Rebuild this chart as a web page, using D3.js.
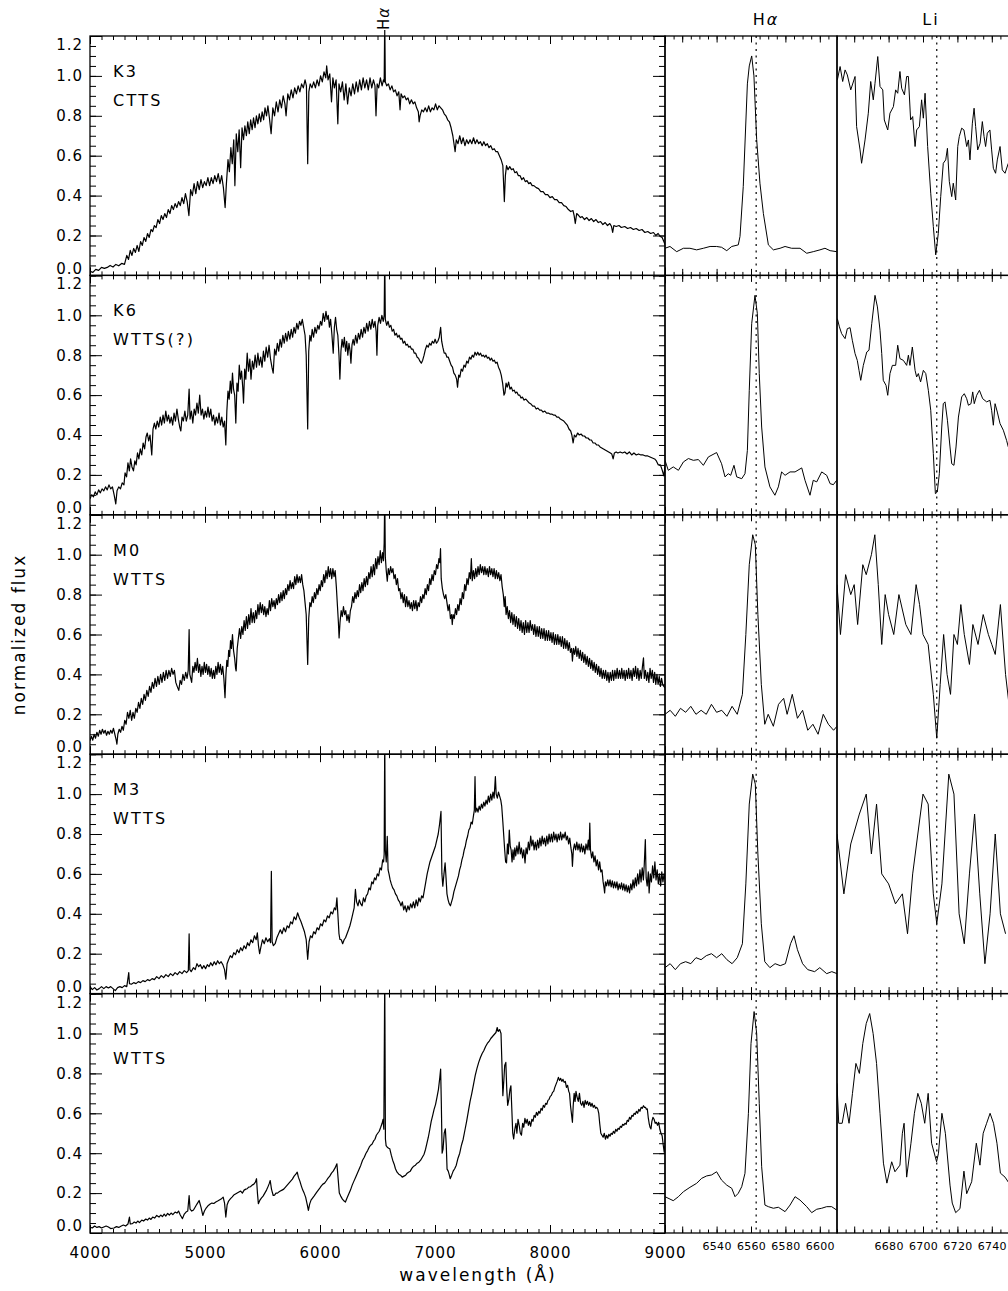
<!DOCTYPE html>
<html>
<head>
<meta charset="utf-8">
<script src="https://cdn.jsdelivr.net/npm/d3@7"></script>
<style>
  body { margin: 0; background: #fff; }
  svg text { font-family: "DejaVu Sans", sans-serif; fill: #000; }
</style>
</head>
<body>
<script>
// Star labels
var spectralTypes = ["K3", "K6", "M0", "M3", "M5"];
var starClasses = ["CTTS", "WTTS(?)", "WTTS", "WTTS", "WTTS"];

// Tick values
var yTickValues = [0, 0.2, 0.4, 0.6, 0.8, 1.0, 1.2];
var fullTickLabels = [4000, 5000, 6000, 7000, 8000, 9000];
var haTickLabels = [6540, 6560, 6580, 6600];
var liTickLabels = [6680, 6700, 6720, 6740];
var haLine = 6563;
var liLine = 6708;

// Full spectra [wavelength, normalized flux]
var k3Full = [[4000,.02],[4025,.015],[4050,.03],[4075,.025],[4100,.04],[4125,.035],[4150,.04],[4175,.05],[4200,.042],[4225,.055],[4250,.048],[4275,.06],[4300,.055],[4320,.10],[4335,.08],[4350,.125],[4365,.10],[4380,.135],[4395,.115],[4410,.15],[4425,.12],[4440,.17],[4455,.15],[4470,.19],[4485,.17],[4500,.21],[4515,.19],[4530,.23],[4545,.22],[4560,.25],[4575,.24],[4590,.28],[4605,.26],[4620,.30],[4635,.28],[4650,.31],[4665,.29],[4680,.33],[4695,.31],[4710,.35],[4725,.33],[4740,.36],[4755,.34],[4770,.37],[4785,.35],[4800,.39],[4815,.36],[4830,.41],[4845,.37],[4860,.30],[4875,.43],[4890,.40],[4905,.46],[4920,.41],[4935,.47],[4950,.43],[4965,.48],[4980,.44],[4995,.47],[5010,.45],[5025,.49],[5040,.45],[5055,.49],[5070,.46],[5085,.50],[5100,.47],[5115,.51],[5130,.46],[5145,.50],[5160,.44],[5175,.34],[5185,.45],[5200,.58],[5212,.52],[5225,.64],[5237,.56],[5250,.68],[5260,.45],[5272,.71],[5285,.62],[5297,.73],[5310,.54],[5322,.74],[5335,.68],[5347,.75],[5360,.70],[5372,.77],[5385,.71],[5397,.78],[5410,.73],[5422,.79],[5435,.74],[5447,.80],[5460,.76],[5472,.81],[5485,.77],[5497,.82],[5510,.78],[5522,.84],[5535,.80],[5547,.85],[5560,.79],[5575,.71],[5590,.84],[5605,.80],[5620,.87],[5635,.82],[5650,.88],[5665,.84],[5680,.90],[5695,.86],[5705,.80],[5720,.91],[5735,.88],[5750,.93],[5765,.89],[5780,.94],[5795,.91],[5810,.95],[5825,.92],[5840,.96],[5855,.94],[5870,.98],[5882,.95],[5893,.56],[5903,.92],[5915,.96],[5930,.94],[5945,.97],[5960,.94],[5975,.98],[5990,.95],[6005,1.0],[6020,.97],[6035,1.02],[6050,.99],[6058,1.05],[6070,.98],[6085,1.01],[6100,.87],[6112,.99],[6125,.94],[6140,.98],[6155,.76],[6165,.96],[6180,.92],[6195,.97],[6210,.88],[6225,.96],[6240,.86],[6255,.94],[6270,.90],[6285,.96],[6300,.91],[6315,.97],[6330,.92],[6345,.98],[6360,.93],[6375,.99],[6390,.94],[6405,.98],[6420,.93],[6435,.99],[6450,.94],[6465,.98],[6478,.95],[6487,.80],[6497,.96],[6510,.94],[6525,.99],[6540,.95],[6552,.98],[6558,.97],[6563,1.3],[6568,.97],[6580,.95],[6595,.96],[6610,.93],[6625,.95],[6640,.92],[6655,.93],[6670,.90],[6685,.92],[6696,.83],[6705,.91],[6720,.89],[6735,.90],[6750,.88],[6765,.89],[6780,.86],[6795,.88],[6810,.86],[6825,.87],[6840,.84],[6855,.82],[6862,.77],[6870,.80],[6885,.83],[6900,.82],[6915,.84],[6930,.82],[6945,.85],[6960,.82],[6975,.84],[6990,.83],[7005,.86],[7020,.83],[7035,.85],[7050,.84],[7065,.83],[7080,.81],[7095,.80],[7110,.78],[7125,.77],[7140,.74],[7155,.70],[7165,.66],[7175,.62],[7185,.68],[7200,.66],[7215,.70],[7230,.66],[7245,.69],[7260,.65],[7275,.68],[7290,.66],[7305,.68],[7320,.66],[7335,.69],[7350,.66],[7365,.68],[7380,.66],[7395,.67],[7410,.65],[7425,.67],[7440,.65],[7455,.66],[7470,.64],[7485,.65],[7500,.63],[7515,.635],[7530,.62],[7545,.62],[7560,.60],[7575,.58],[7590,.55],[7603,.37],[7612,.50],[7622,.55],[7635,.53],[7650,.545],[7665,.53],[7680,.535],[7695,.515],[7710,.52],[7725,.50],[7740,.50],[7755,.48],[7770,.49],[7785,.47],[7800,.475],[7815,.46],[7830,.465],[7845,.45],[7860,.45],[7880,.44],[7900,.435],[7920,.42],[7940,.42],[7960,.405],[7980,.405],[8000,.39],[8020,.395],[8040,.38],[8060,.38],[8080,.365],[8100,.365],[8120,.35],[8140,.345],[8160,.33],[8180,.32],[8200,.325],[8210,.30],[8220,.26],[8232,.31],[8250,.30],[8265,.29],[8280,.295],[8300,.28],[8320,.29],[8340,.275],[8360,.285],[8380,.27],[8400,.28],[8420,.265],[8440,.27],[8460,.255],[8480,.265],[8500,.25],[8520,.26],[8535,.245],[8545,.215],[8555,.25],[8575,.245],[8600,.25],[8620,.24],[8650,.245],[8675,.235],[8700,.24],[8725,.23],[8750,.235],[8775,.225],[8800,.23],[8825,.215],[8850,.22],[8875,.21],[8900,.215],[8920,.20],[8940,.21],[8960,.195],[8975,.19],[8990,.17],[9000,.155]];

var k6Full = [[4000,.08],[4015,.10],[4030,.09],[4045,.115],[4060,.10],[4075,.125],[4090,.11],[4105,.13],[4120,.12],[4135,.14],[4150,.125],[4165,.15],[4180,.13],[4195,.14],[4210,.10],[4224,.055],[4235,.12],[4250,.14],[4265,.13],[4280,.16],[4295,.15],[4305,.21],[4318,.19],[4330,.26],[4342,.22],[4353,.28],[4365,.24],[4378,.22],[4390,.27],[4401,.25],[4413,.31],[4425,.28],[4437,.33],[4450,.30],[4462,.36],[4475,.33],[4487,.39],[4498,.41],[4510,.37],[4522,.40],[4537,.30],[4548,.43],[4560,.46],[4572,.43],[4585,.47],[4598,.44],[4611,.49],[4623,.45],[4635,.50],[4647,.46],[4659,.52],[4671,.47],[4683,.50],[4695,.46],[4707,.49],[4719,.45],[4731,.51],[4743,.47],[4756,.53],[4768,.48],[4780,.44],[4790,.42],[4800,.49],[4812,.47],[4825,.52],[4837,.47],[4850,.50],[4862,.63],[4870,.48],[4882,.52],[4894,.46],[4906,.53],[4918,.50],[4930,.56],[4942,.51],[4954,.60],[4966,.50],[4978,.53],[4990,.48],[5002,.52],[5014,.49],[5026,.54],[5038,.49],[5050,.53],[5062,.47],[5074,.50],[5086,.45],[5098,.49],[5110,.46],[5122,.51],[5134,.45],[5146,.49],[5158,.44],[5170,.47],[5181,.35],[5190,.52],[5200,.62],[5210,.58],[5220,.67],[5230,.61],[5239,.71],[5248,.63],[5258,.60],[5268,.46],[5278,.66],[5288,.62],[5298,.75],[5308,.68],[5318,.72],[5328,.64],[5335,.56],[5345,.73],[5355,.68],[5367,.81],[5378,.72],[5390,.78],[5400,.68],[5412,.77],[5424,.73],[5436,.80],[5448,.74],[5460,.81],[5472,.75],[5484,.79],[5496,.74],[5508,.82],[5520,.77],[5532,.84],[5545,.79],[5557,.85],[5570,.78],[5582,.74],[5593,.71],[5605,.83],[5617,.80],[5629,.86],[5641,.82],[5653,.88],[5665,.84],[5677,.90],[5689,.86],[5701,.91],[5713,.87],[5725,.92],[5738,.88],[5750,.93],[5762,.89],[5774,.94],[5786,.91],[5798,.96],[5810,.93],[5822,.97],[5834,.95],[5846,.98],[5858,.94],[5870,.90],[5880,.80],[5893,.43],[5902,.82],[5912,.90],[5922,.87],[5932,.93],[5944,.89],[5956,.94],[5968,.91],[5980,.95],[5992,.93],[6004,.97],[6016,.95],[6028,1.01],[6040,.97],[6052,1.02],[6062,.98],[6072,1.0],[6082,.94],[6092,.98],[6104,.90],[6115,.81],[6125,.94],[6135,.99],[6145,.93],[6155,.90],[6165,.80],[6173,.68],[6182,.82],[6192,.88],[6202,.84],[6212,.89],[6222,.82],[6232,.87],[6242,.80],[6252,.86],[6262,.82],[6269,.76],[6278,.85],[6288,.88],[6298,.85],[6310,.90],[6322,.86],[6334,.91],[6346,.88],[6358,.93],[6370,.89],[6382,.94],[6394,.91],[6406,.96],[6418,.92],[6430,.97],[6442,.93],[6454,.98],[6466,.94],[6478,.97],[6488,.92],[6495,.80],[6502,.95],[6514,.99],[6526,.96],[6538,1.0],[6550,.97],[6558,1.0],[6563,1.3],[6568,.98],[6580,.95],[6592,.97],[6604,.94],[6616,.95],[6628,.92],[6640,.93],[6652,.90],[6664,.91],[6676,.89],[6688,.90],[6700,.88],[6712,.885],[6724,.86],[6736,.87],[6748,.85],[6760,.855],[6772,.84],[6784,.845],[6796,.83],[6808,.83],[6820,.81],[6832,.81],[6845,.79],[6857,.785],[6869,.77],[6881,.76],[6893,.775],[6905,.80],[6917,.83],[6929,.85],[6941,.84],[6953,.86],[6965,.85],[6977,.87],[6989,.86],[7001,.88],[7013,.86],[7025,.87],[7037,.89],[7049,.94],[7058,.87],[7068,.84],[7080,.81],[7092,.81],[7104,.79],[7116,.79],[7128,.77],[7140,.75],[7152,.74],[7164,.71],[7176,.70],[7188,.68],[7196,.64],[7206,.70],[7216,.69],[7228,.73],[7240,.72],[7252,.75],[7264,.74],[7276,.77],[7288,.76],[7300,.79],[7312,.78],[7324,.80],[7336,.79],[7348,.815],[7360,.80],[7372,.815],[7384,.80],[7396,.81],[7408,.795],[7420,.80],[7432,.79],[7444,.80],[7456,.785],[7468,.79],[7480,.775],[7492,.785],[7504,.77],[7516,.775],[7528,.76],[7540,.765],[7552,.74],[7564,.725],[7576,.70],[7588,.66],[7600,.60],[7608,.61],[7618,.66],[7628,.64],[7640,.665],[7652,.63],[7664,.64],[7676,.62],[7688,.625],[7700,.61],[7712,.615],[7724,.60],[7736,.60],[7748,.585],[7760,.59],[7775,.575],[7790,.58],[7805,.57],[7820,.56],[7835,.555],[7850,.545],[7865,.545],[7880,.53],[7895,.535],[7910,.525],[7925,.525],[7940,.515],[7955,.52],[7970,.51],[7985,.51],[8000,.505],[8015,.505],[8030,.50],[8045,.50],[8060,.49],[8075,.49],[8090,.48],[8105,.475],[8120,.47],[8135,.46],[8150,.45],[8165,.43],[8180,.42],[8190,.40],[8201,.36],[8212,.40],[8225,.39],[8240,.41],[8255,.40],[8270,.405],[8285,.395],[8300,.395],[8315,.385],[8330,.385],[8345,.375],[8360,.375],[8375,.36],[8390,.36],[8405,.35],[8420,.35],[8435,.34],[8450,.335],[8465,.33],[8480,.325],[8495,.32],[8510,.315],[8525,.31],[8537,.305],[8549,.28],[8560,.31],[8575,.315],[8590,.31],[8610,.315],[8630,.31],[8650,.315],[8670,.305],[8690,.315],[8710,.30],[8730,.31],[8750,.30],[8770,.305],[8790,.30],[8810,.30],[8830,.295],[8850,.295],[8870,.29],[8890,.285],[8910,.28],[8925,.27],[8942,.25],[8960,.25],[8975,.225],[8990,.195],[9000,.245]];

var m0Full = [[4000,.067],[4012,.09],[4024,.07],[4036,.10],[4048,.08],[4060,.11],[4072,.09],[4084,.12],[4096,.10],[4108,.125],[4120,.105],[4132,.12],[4144,.095],[4156,.115],[4168,.10],[4180,.12],[4192,.105],[4204,.13],[4216,.10],[4228,.07],[4234,.05],[4242,.10],[4254,.125],[4266,.11],[4278,.14],[4290,.12],[4302,.17],[4314,.15],[4326,.21],[4338,.18],[4350,.22],[4362,.17],[4374,.21],[4386,.18],[4398,.23],[4410,.21],[4422,.26],[4434,.23],[4446,.28],[4458,.25],[4470,.30],[4482,.27],[4494,.32],[4506,.29],[4518,.34],[4530,.31],[4542,.36],[4554,.33],[4566,.38],[4578,.34],[4590,.39],[4602,.35],[4614,.40],[4626,.36],[4638,.41],[4650,.37],[4662,.42],[4674,.38],[4686,.42],[4698,.39],[4710,.43],[4722,.40],[4734,.42],[4746,.36],[4758,.34],[4772,.32],[4784,.37],[4796,.35],[4808,.40],[4820,.37],[4832,.41],[4844,.38],[4854,.42],[4862,.625],[4868,.40],[4876,.38],[4884,.36],[4894,.44],[4904,.41],[4914,.46],[4924,.42],[4934,.48],[4944,.41],[4954,.45],[4964,.39],[4974,.44],[4984,.40],[4994,.46],[5004,.41],[5014,.45],[5024,.40],[5034,.44],[5044,.39],[5054,.43],[5064,.38],[5074,.42],[5084,.38],[5094,.44],[5104,.40],[5114,.46],[5124,.41],[5134,.45],[5144,.40],[5154,.44],[5164,.38],[5174,.283],[5182,.40],[5190,.47],[5198,.44],[5206,.52],[5214,.49],[5222,.57],[5230,.53],[5239,.60],[5248,.52],[5258,.48],[5266,.43],[5271,.417],[5280,.53],[5290,.58],[5300,.63],[5310,.58],[5320,.64],[5330,.60],[5340,.67],[5350,.62],[5360,.69],[5370,.63],[5380,.70],[5390,.65],[5400,.73],[5410,.66],[5420,.71],[5430,.66],[5440,.72],[5450,.68],[5460,.75],[5470,.70],[5480,.76],[5490,.71],[5500,.75],[5510,.70],[5520,.74],[5530,.69],[5540,.73],[5550,.70],[5560,.77],[5570,.72],[5580,.78],[5590,.74],[5600,.77],[5610,.73],[5620,.78],[5630,.75],[5640,.80],[5650,.76],[5660,.81],[5670,.77],[5680,.82],[5690,.78],[5700,.83],[5710,.80],[5720,.85],[5730,.82],[5740,.87],[5750,.83],[5760,.86],[5770,.83],[5780,.89],[5790,.85],[5800,.90],[5810,.86],[5820,.89],[5830,.86],[5840,.90],[5850,.85],[5860,.82],[5870,.76],[5880,.70],[5893,.45],[5902,.68],[5912,.76],[5922,.74],[5932,.79],[5942,.76],[5952,.81],[5962,.78],[5972,.83],[5982,.80],[5992,.85],[6002,.82],[6012,.87],[6022,.84],[6032,.90],[6042,.86],[6052,.92],[6062,.88],[6072,.94],[6082,.89],[6092,.93],[6102,.88],[6112,.93],[6122,.89],[6132,.92],[6142,.84],[6152,.74],[6160,.66],[6166,.583],[6174,.66],[6184,.72],[6194,.69],[6204,.74],[6214,.70],[6224,.72],[6234,.67],[6244,.70],[6254,.66],[6264,.72],[6274,.74],[6284,.79],[6294,.76],[6304,.81],[6314,.78],[6324,.82],[6334,.79],[6344,.85],[6354,.81],[6364,.86],[6374,.82],[6384,.88],[6394,.84],[6404,.89],[6414,.85],[6424,.91],[6434,.88],[6444,.94],[6454,.89],[6464,.95],[6474,.90],[6484,.98],[6494,.93],[6504,.99],[6514,.95],[6524,1.02],[6534,.96],[6544,1.01],[6552,.97],[6558,1.06],[6563,1.3],[6568,.99],[6576,.92],[6585,.867],[6594,.93],[6604,.90],[6614,.94],[6624,.91],[6634,.93],[6644,.88],[6654,.90],[6664,.85],[6674,.88],[6684,.82],[6694,.83],[6704,.78],[6714,.81],[6724,.76],[6734,.80],[6744,.74],[6754,.79],[6764,.74],[6774,.77],[6784,.73],[6794,.76],[6804,.72],[6814,.77],[6824,.73],[6834,.77],[6844,.72],[6854,.76],[6864,.74],[6874,.79],[6884,.76],[6894,.80],[6904,.78],[6914,.83],[6924,.80],[6934,.85],[6944,.82],[6954,.88],[6964,.85],[6974,.90],[6984,.87],[6994,.92],[7004,.90],[7014,.95],[7024,.93],[7034,.98],[7042,.96],[7048,1.03],[7054,.88],[7064,.83],[7074,.80],[7084,.78],[7094,.80],[7104,.76],[7114,.72],[7124,.75],[7134,.68],[7144,.70],[7150,.65],[7158,.70],[7168,.68],[7178,.73],[7188,.70],[7198,.75],[7208,.72],[7218,.78],[7228,.75],[7238,.81],[7248,.78],[7258,.85],[7268,.82],[7278,.88],[7288,.85],[7298,.91],[7308,.88],[7316,.98],[7324,.87],[7334,.92],[7344,.88],[7354,.93],[7364,.89],[7374,.94],[7384,.90],[7394,.95],[7404,.91],[7414,.94],[7424,.90],[7434,.94],[7444,.90],[7454,.93],[7464,.89],[7474,.94],[7484,.90],[7494,.93],[7504,.89],[7514,.93],[7524,.88],[7534,.92],[7544,.88],[7554,.91],[7564,.87],[7574,.90],[7584,.84],[7594,.80],[7602,.74],[7610,.79],[7618,.70],[7628,.74],[7638,.68],[7648,.72],[7658,.66],[7668,.71],[7678,.65],[7688,.70],[7698,.64],[7708,.69],[7718,.63],[7728,.68],[7738,.62],[7748,.67],[7758,.61],[7768,.66],[7778,.60],[7788,.67],[7798,.61],[7808,.66],[7818,.61],[7828,.67],[7838,.62],[7848,.65],[7858,.60],[7868,.65],[7878,.59],[7888,.64],[7898,.59],[7908,.64],[7918,.58],[7928,.63],[7938,.58],[7948,.63],[7958,.57],[7968,.62],[7978,.57],[7988,.62],[7998,.57],[8008,.61],[8018,.56],[8028,.61],[8038,.55],[8048,.60],[8058,.55],[8068,.60],[8078,.55],[8088,.59],[8098,.54],[8108,.59],[8118,.53],[8128,.58],[8138,.53],[8148,.57],[8158,.52],[8168,.56],[8178,.51],[8188,.53],[8195,.467],[8204,.53],[8214,.50],[8224,.54],[8234,.49],[8244,.53],[8254,.48],[8264,.52],[8274,.47],[8284,.51],[8294,.46],[8304,.50],[8314,.45],[8324,.49],[8334,.44],[8344,.48],[8354,.43],[8364,.47],[8374,.42],[8384,.46],[8394,.41],[8404,.45],[8414,.40],[8424,.44],[8434,.39],[8444,.43],[8454,.38],[8464,.42],[8474,.38],[8484,.42],[8494,.37],[8504,.41],[8514,.36],[8524,.41],[8534,.37],[8544,.42],[8554,.37],[8564,.42],[8574,.38],[8584,.43],[8594,.38],[8604,.42],[8614,.38],[8624,.43],[8634,.38],[8644,.42],[8654,.37],[8664,.42],[8674,.38],[8684,.43],[8694,.38],[8704,.42],[8714,.37],[8724,.43],[8734,.39],[8744,.44],[8754,.38],[8764,.43],[8774,.37],[8784,.42],[8794,.38],[8804,.44],[8813,.483],[8820,.38],[8830,.42],[8840,.37],[8850,.41],[8860,.36],[8870,.43],[8880,.38],[8890,.42],[8900,.36],[8910,.41],[8920,.35],[8930,.40],[8940,.35],[8950,.39],[8960,.34],[8970,.38],[8980,.35],[8990,.34],[9000,.333]];

var m3Full = [[4000,.035],[4020,.02],[4040,.03],[4060,.018],[4080,.025],[4100,.035],[4120,.025],[4140,.035],[4160,.028],[4180,.035],[4200,.025],[4220,.015],[4240,.03],[4260,.035],[4280,.03],[4300,.04],[4320,.035],[4337,.105],[4343,.05],[4360,.047],[4380,.055],[4400,.05],[4420,.06],[4440,.055],[4460,.065],[4480,.06],[4500,.07],[4520,.065],[4540,.075],[4560,.07],[4580,.085],[4600,.075],[4620,.09],[4640,.08],[4660,.095],[4680,.085],[4700,.10],[4720,.09],[4740,.105],[4760,.095],[4780,.11],[4800,.10],[4820,.115],[4840,.105],[4855,.115],[4862,.30],[4868,.12],[4880,.11],[4900,.13],[4915,.12],[4930,.15],[4945,.135],[4960,.145],[4975,.125],[4990,.14],[5005,.125],[5020,.145],[5035,.135],[5050,.155],[5065,.14],[5080,.16],[5095,.145],[5110,.165],[5125,.15],[5140,.16],[5155,.145],[5170,.12],[5181,.072],[5192,.15],[5205,.17],[5220,.19],[5235,.18],[5250,.205],[5265,.195],[5280,.22],[5295,.205],[5310,.23],[5325,.215],[5340,.24],[5355,.225],[5370,.255],[5385,.24],[5400,.27],[5415,.255],[5430,.29],[5445,.27],[5455,.305],[5465,.24],[5475,.20],[5485,.23],[5500,.27],[5515,.25],[5530,.28],[5545,.26],[5560,.275],[5570,.255],[5577,.613],[5584,.26],[5595,.24],[5610,.25],[5625,.28],[5640,.30],[5655,.32],[5670,.30],[5685,.33],[5700,.31],[5715,.34],[5730,.33],[5745,.36],[5760,.35],[5775,.385],[5790,.37],[5805,.405],[5820,.38],[5835,.36],[5850,.335],[5865,.31],[5880,.27],[5893,.172],[5905,.26],[5918,.29],[5931,.28],[5945,.31],[5960,.30],[5975,.33],[5990,.32],[6005,.35],[6020,.34],[6035,.37],[6050,.36],[6065,.39],[6080,.38],[6095,.41],[6110,.40],[6125,.43],[6137,.42],[6147,.48],[6155,.40],[6165,.30],[6173,.272],[6185,.27],[6197,.25],[6210,.27],[6222,.28],[6235,.30],[6248,.32],[6260,.34],[6273,.37],[6285,.40],[6297,.43],[6308,.522],[6318,.46],[6330,.44],[6342,.47],[6354,.45],[6366,.44],[6378,.48],[6390,.46],[6402,.49],[6414,.50],[6426,.53],[6438,.52],[6450,.56],[6462,.55],[6474,.58],[6486,.57],[6498,.60],[6510,.59],[6522,.63],[6534,.62],[6545,.67],[6553,.66],[6558,.70],[6563,1.3],[6568,.72],[6576,.66],[6585,.788],[6592,.62],[6600,.60],[6610,.57],[6620,.55],[6632,.53],[6644,.52],[6656,.50],[6668,.49],[6680,.47],[6692,.46],[6704,.44],[6716,.46],[6728,.42],[6740,.44],[6752,.41],[6764,.44],[6776,.42],[6788,.45],[6800,.43],[6812,.46],[6824,.43],[6836,.47],[6848,.44],[6860,.48],[6872,.46],[6884,.49],[6896,.48],[6908,.52],[6920,.56],[6932,.60],[6944,.63],[6956,.66],[6968,.68],[6980,.70],[6992,.72],[7004,.74],[7016,.77],[7028,.80],[7040,.85],[7052,.913],[7060,.60],[7068,.538],[7078,.60],[7088,.655],[7096,.58],[7104,.50],[7114,.47],[7124,.45],[7134,.44],[7144,.46],[7154,.48],[7164,.51],[7174,.53],[7184,.55],[7194,.57],[7204,.59],[7214,.62],[7224,.64],[7234,.67],[7244,.69],[7254,.72],[7264,.74],[7274,.77],[7284,.79],[7294,.82],[7304,.83],[7314,.86],[7324,.85],[7334,.89],[7342,.92],[7348,1.088],[7354,.91],[7364,.93],[7374,.91],[7384,.94],[7394,.92],[7404,.95],[7414,.93],[7424,.96],[7434,.94],[7444,.97],[7454,.95],[7464,.99],[7474,.96],[7484,1.0],[7494,.97],[7504,1.01],[7514,.98],[7525,1.088],[7532,1.0],[7542,.98],[7552,1.01],[7562,.99],[7572,.97],[7580,.94],[7590,.86],[7598,.79],[7606,.72],[7614,.66],[7622,.655],[7630,.75],[7638,.70],[7646,.82],[7654,.74],[7662,.72],[7670,.66],[7678,.72],[7686,.672],[7694,.73],[7702,.69],[7712,.74],[7722,.70],[7732,.76],[7742,.70],[7752,.73],[7762,.68],[7772,.72],[7783,.655],[7792,.73],[7802,.70],[7812,.76],[7822,.72],[7832,.79],[7842,.74],[7852,.77],[7862,.72],[7872,.76],[7882,.72],[7892,.77],[7902,.73],[7912,.78],[7922,.74],[7932,.79],[7942,.75],[7952,.78],[7962,.74],[7972,.79],[7982,.75],[7992,.80],[8002,.76],[8012,.80],[8022,.76],[8032,.81],[8042,.77],[8052,.80],[8062,.76],[8072,.80],[8082,.77],[8092,.81],[8102,.77],[8112,.80],[8122,.78],[8132,.81],[8142,.77],[8152,.79],[8162,.75],[8172,.78],[8182,.73],[8190,.70],[8195,.638],[8203,.72],[8213,.75],[8223,.72],[8233,.76],[8243,.72],[8253,.75],[8263,.71],[8273,.75],[8283,.71],[8293,.74],[8303,.70],[8313,.75],[8323,.72],[8333,.77],[8340,.72],[8346,.855],[8352,.72],[8362,.68],[8372,.71],[8382,.66],[8392,.69],[8402,.64],[8412,.67],[8422,.62],[8432,.66],[8442,.61],[8452,.62],[8462,.56],[8470,.53],[8475,.505],[8482,.56],[8492,.54],[8502,.57],[8512,.54],[8522,.57],[8532,.535],[8542,.565],[8552,.53],[8562,.56],[8572,.53],[8582,.56],[8592,.52],[8602,.55],[8612,.525],[8622,.555],[8632,.52],[8642,.55],[8652,.515],[8662,.545],[8672,.51],[8682,.54],[8692,.505],[8702,.55],[8712,.52],[8722,.57],[8732,.53],[8742,.58],[8752,.54],[8762,.60],[8772,.55],[8782,.62],[8792,.56],[8802,.63],[8812,.57],[8820,.65],[8829,.772],[8836,.58],[8845,.54],[8855,.61],[8862,.505],[8872,.60],[8882,.56],[8892,.64],[8902,.58],[8912,.66],[8922,.57],[8932,.62],[8942,.55],[8952,.60],[8962,.54],[8972,.61],[8982,.56],[8992,.60],[9000,.572]];

var m5Full = [[4000,.03],[4020,.025],[4040,.035],[4060,.028],[4080,.032],[4100,.025],[4120,.03],[4140,.035],[4160,.03],[4180,.022],[4208,.025],[4230,.032],[4250,.028],[4272,.035],[4290,.04],[4310,.035],[4330,.045],[4343,.08],[4350,.045],[4369,.047],[4385,.055],[4400,.05],[4415,.06],[4430,.052],[4450,.065],[4466,.06],[4485,.07],[4500,.065],[4515,.075],[4530,.068],[4545,.08],[4562,.075],[4580,.088],[4600,.08],[4615,.09],[4630,.082],[4645,.095],[4659,.085],[4675,.098],[4690,.09],[4705,.10],[4720,.092],[4740,.105],[4756,.10],[4770,.11],[4785,.09],[4804,.072],[4820,.095],[4835,.105],[4850,.11],[4862,.188],[4870,.12],[4885,.11],[4900,.115],[4915,.13],[4930,.145],[4949,.163],[4965,.13],[4981,.088],[4995,.11],[5010,.125],[5029,.138],[5045,.145],[5060,.15],[5077,.148],[5094,.155],[5110,.16],[5125,.165],[5140,.17],[5158,.18],[5170,.15],[5181,.08],[5192,.14],[5205,.16],[5222,.172],[5235,.18],[5250,.19],[5265,.195],[5280,.20],[5295,.205],[5310,.21],[5325,.20],[5340,.215],[5355,.22],[5367,.222],[5380,.23],[5395,.232],[5410,.24],[5425,.245],[5438,.255],[5448,.272],[5456,.20],[5464,.147],[5478,.165],[5490,.175],[5505,.185],[5520,.20],[5535,.215],[5550,.235],[5560,.25],[5567,.263],[5578,.22],[5593,.188],[5605,.19],[5617,.20],[5630,.20],[5641,.205],[5655,.21],[5670,.215],[5685,.22],[5700,.23],[5715,.24],[5730,.25],[5745,.26],[5760,.27],[5775,.285],[5790,.295],[5802,.305],[5812,.28],[5825,.26],[5838,.235],[5850,.215],[5862,.20],[5875,.18],[5890,.14],[5899,.113],[5910,.145],[5922,.165],[5935,.175],[5948,.185],[5960,.195],[5972,.205],[5985,.215],[5998,.225],[6010,.235],[6025,.245],[6040,.25],[6055,.262],[6070,.275],[6085,.285],[6100,.30],[6115,.31],[6130,.325],[6147,.347],[6158,.27],[6168,.20],[6180,.185],[6195,.17],[6210,.16],[6221,.155],[6235,.175],[6250,.195],[6265,.215],[6280,.24],[6295,.26],[6310,.28],[6325,.30],[6340,.32],[6355,.34],[6370,.365],[6385,.38],[6400,.40],[6414,.413],[6428,.43],[6440,.44],[6452,.445],[6465,.46],[6478,.47],[6490,.49],[6502,.50],[6515,.51],[6528,.53],[6540,.55],[6548,.57],[6555,.52],[6563,1.3],[6569,.47],[6575,.438],[6585,.43],[6597,.425],[6607,.422],[6620,.39],[6632,.365],[6645,.345],[6656,.322],[6670,.305],[6685,.295],[6700,.29],[6715,.28],[6730,.285],[6745,.29],[6758,.30],[6770,.305],[6785,.31],[6800,.325],[6815,.335],[6830,.34],[6845,.35],[6860,.355],[6875,.365],[6890,.38],[6905,.395],[6918,.42],[6930,.45],[6942,.48],[6955,.52],[6967,.56],[6980,.59],[6992,.62],[7005,.645],[7017,.68],[7030,.72],[7042,.78],[7049,.822],[7055,.65],[7062,.40],[7070,.42],[7080,.50],[7090,.522],[7098,.44],[7105,.32],[7115,.31],[7125,.29],[7132,.272],[7145,.29],[7158,.31],[7171,.322],[7185,.34],[7200,.375],[7215,.40],[7230,.44],[7245,.47],[7260,.515],[7275,.56],[7290,.61],[7305,.66],[7320,.70],[7335,.745],[7350,.79],[7365,.825],[7380,.855],[7395,.88],[7410,.90],[7425,.915],[7440,.935],[7455,.95],[7470,.96],[7485,.975],[7500,.985],[7515,.995],[7530,1.005],[7541,1.03],[7550,1.01],[7562,1.02],[7574,1.0],[7582,.85],[7590,.688],[7598,.76],[7606,.84],[7616,.855],[7624,.72],[7632,.64],[7642,.67],[7652,.72],[7660,.738],[7668,.62],[7676,.50],[7684,.472],[7694,.52],[7704,.55],[7712,.50],[7722,.57],[7732,.54],[7742,.50],[7752,.49],[7762,.55],[7772,.53],[7782,.575],[7792,.55],[7802,.57],[7812,.54],[7822,.56],[7832,.535],[7842,.57],[7852,.56],[7862,.59],[7872,.58],[7882,.605],[7892,.59],[7902,.61],[7912,.60],[7922,.625],[7932,.615],[7942,.64],[7952,.63],[7962,.65],[7972,.645],[7982,.665],[7992,.67],[8002,.685],[8012,.69],[8022,.705],[8032,.71],[8042,.73],[8052,.745],[8062,.76],[8073,.78],[8083,.765],[8093,.775],[8103,.76],[8113,.77],[8123,.755],[8133,.76],[8143,.73],[8153,.74],[8163,.71],[8170,.70],[8178,.64],[8186,.60],[8195,.555],[8202,.64],[8210,.70],[8218,.66],[8226,.71],[8236,.68],[8246,.66],[8256,.70],[8266,.65],[8276,.64],[8286,.66],[8296,.63],[8306,.665],[8316,.645],[8326,.66],[8336,.64],[8346,.655],[8356,.635],[8366,.65],[8376,.63],[8386,.64],[8396,.625],[8406,.63],[8416,.62],[8424,.60],[8432,.55],[8442,.50],[8452,.49],[8462,.48],[8472,.50],[8482,.47],[8492,.49],[8502,.475],[8512,.495],[8522,.485],[8532,.50],[8542,.495],[8552,.51],[8562,.50],[8572,.52],[8582,.51],[8592,.525],[8602,.52],[8612,.535],[8622,.53],[8632,.545],[8642,.54],[8652,.55],[8662,.545],[8672,.565],[8682,.56],[8692,.58],[8702,.57],[8712,.59],[8722,.585],[8732,.60],[8742,.595],[8752,.61],[8762,.60],[8772,.62],[8782,.61],[8792,.63],[8802,.625],[8813,.638],[8822,.63],[8830,.63],[8838,.62],[8846,.622],[8854,.58],[8862,.55],[8870,.53],[8878,.522],[8886,.56],[8895,.58],[8905,.57],[8915,.55],[8925,.555],[8935,.54],[8945,.555],[8955,.52],[8965,.50],[8975,.488],[8985,.44],[8993,.405],[9000,.438]];

// H-alpha region
var k3Ha = [[6510,.136],[6512.9,.145],[6516.8,.119],[6520.7,.136],[6524.5,.136],[6528.4,.128],[6532.3,.136],[6536.2,.145],[6540,.145],[6542.9,.141],[6545.9,.124],[6548.8,.145],[6552.6,.153],[6553.6,.195],[6555.5,.445],[6557.9,.96],[6559,1.05],[6560.4,1.1],[6561.7,1.0],[6563.3,.68],[6565.2,.462],[6567.2,.31],[6570.1,.153],[6573,.128],[6576.9,.136],[6579.8,.145],[6583.6,.136],[6588.5,.136],[6592.4,.111],[6596.2,.119],[6600.1,.128],[6603,.136],[6606,.124],[6609.8,.119]];
var k6Ha = [[6510,.273],[6511.9,.223],[6514.8,.24],[6517.8,.223],[6520.7,.265],[6523.6,.282],[6526.5,.273],[6529.4,.277],[6532.3,.248],[6535.2,.29],[6540,.312],[6542.9,.256],[6544.9,.19],[6546.8,.206],[6548.2,.198],[6550.1,.248],[6551.7,.19],[6554.6,.181],[6556.5,.206],[6557.9,.323],[6559,.624],[6560.4,.958],[6562.3,1.1],[6563.7,1.008],[6564.8,.708],[6566.2,.44],[6568.1,.24],[6571,.14],[6573.9,.098],[6575.9,.14],[6577.8,.215],[6579.8,.198],[6582.7,.215],[6585.6,.215],[6589.5,.235],[6591.4,.173],[6594.3,.098],[6596.2,.173],[6598.2,.165],[6601.1,.215],[6604,.198],[6606,.156],[6607.9,.151],[6609.8,.173]];
var m0Ha = [[6510,.2],[6513,.22],[6516,.19],[6519,.23],[6522,.21],[6525,.24],[6528,.2],[6531,.22],[6534,.2],[6537,.25],[6540,.21],[6543,.22],[6546,.19],[6549,.24],[6552,.2],[6555,.3],[6557,.6],[6559,.95],[6561,1.1],[6562.5,1.05],[6564,.7],[6566,.35],[6568,.15],[6570,.2],[6573,.14],[6576,.25],[6579,.28],[6581,.2],[6584,.3],[6587,.18],[6590,.22],[6593,.12],[6596,.15],[6599,.1],[6602,.2],[6605,.15],[6608,.12],[6610,.14]];
var m3Ha = [[6510,.13],[6513,.15],[6516,.12],[6519,.15],[6522,.16],[6525,.15],[6528,.18],[6531,.17],[6534,.19],[6537,.2],[6540,.18],[6543,.2],[6546,.17],[6549,.15],[6552,.18],[6555,.25],[6557,.55],[6559,.95],[6561,1.1],[6562.5,1.05],[6564,.7],[6566,.35],[6568,.16],[6571,.13],[6574,.15],[6577,.14],[6580,.15],[6583,.25],[6585,.29],[6587,.22],[6590,.15],[6593,.12],[6597,.11],[6600,.13],[6604,.1],[6607,.11],[6610,.1]];
var m5Ha = [[6510,.182],[6514.8,.162],[6517.8,.182],[6520.7,.207],[6524.5,.229],[6528.4,.249],[6531.3,.274],[6534.2,.286],[6537.1,.291],[6540,.307],[6542.9,.265],[6545.9,.24],[6548.8,.224],[6550.7,.182],[6552.6,.199],[6554.6,.232],[6556.5,.299],[6558.5,.6],[6560,.95],[6561.8,1.11],[6563.3,1.0],[6564.8,.65],[6566.2,.332],[6568.1,.14],[6570.1,.132],[6573,.124],[6575.9,.129],[6579.8,.107],[6582.7,.14],[6585.6,.182],[6588.5,.165],[6592.4,.132],[6595.3,.102],[6598.2,.119],[6601.1,.124],[6604,.132],[6606.9,.132],[6609.8,.115]];

// Li region
var k3Li = [[6650.2,.98],[6651.8,1.047],[6653.3,.972],[6654.7,1.03],[6656,1.005],[6658,.93],[6660.5,.997],[6661.4,.746],[6663.4,.629],[6664.3,.562],[6666.3,.679],[6668.2,.813],[6669.6,.972],[6671.1,.88],[6672.1,.963],[6673.7,1.097],[6675,.947],[6676.6,.93],[6677.5,.779],[6679.5,.729],[6680.8,.813],[6682.8,.846],[6684.1,.93],[6685.3,.913],[6686.6,1.022],[6687.6,.938],[6689.2,.905],[6690.5,.997],[6691.5,.997],[6692.8,.779],[6694,.796],[6695.4,.646],[6696.3,.729],[6697.9,.746],[6699.2,.88],[6700.2,.788],[6701.2,.913],[6702.7,.646],[6704.5,.412],[6706,.245],[6707.4,.103],[6708.9,.211],[6710.3,.395],[6711.8,.562],[6713.2,.579],[6714.2,.637],[6715.3,.47],[6716.7,.395],[6717.6,.462],[6719,.378],[6720.2,.646],[6721.1,.696],[6722.5,.738],[6723.8,.729],[6725.4,.646],[6726.4,.679],[6727.3,.579],[6728.7,.763],[6729.7,.838],[6730.6,.746],[6731.8,.629],[6733.2,.662],[6734.5,.771],[6735.5,.696],[6736.4,.646],[6737.4,.713],[6738.9,.729],[6739.9,.629],[6740.9,.537],[6742.2,.512],[6743.2,.579],[6744.8,.646],[6746.1,.529],[6747.7,.512],[6749.6,.562]];
var k6Li = [[6650.2,.983],[6651.4,.942],[6652.7,.908],[6654.7,.883],[6656,.933],[6657.6,.938],[6658.9,.875],[6660.5,.808],[6661.8,.774],[6662.8,.724],[6663.8,.674],[6665.3,.749],[6667.3,.816],[6668.6,.825],[6670.2,.958],[6672.1,1.1],[6673.5,1.042],[6675,.925],[6676,.808],[6676.9,.674],[6678.5,.649],[6679.5,.599],[6680.8,.708],[6682.2,.749],[6684.1,.749],[6685.3,.85],[6686.6,.783],[6688.6,.774],[6690.5,.749],[6691.5,.8],[6692.4,.749],[6693.8,.841],[6695.4,.724],[6696.3,.691],[6697.3,.708],[6698.6,.666],[6700.2,.724],[6701.6,.708],[6703.1,.624],[6704.5,.524],[6706,.307],[6707.2,.106],[6708.3,.114],[6709.5,.206],[6710.9,.44],[6711.8,.557],[6712.8,.566],[6714.2,.474],[6715.7,.34],[6716.7,.256],[6718,.248],[6719.2,.34],[6720.6,.49],[6722.5,.591],[6724,.607],[6725.4,.582],[6726.4,.549],[6727.9,.557],[6728.9,.616],[6729.8,.557],[6731.2,.599],[6732.8,.624],[6734.7,.582],[6737,.566],[6738.9,.574],[6739.9,.524],[6740.9,.449],[6741.9,.557],[6743.2,.515],[6744.8,.457],[6746.7,.424],[6748.6,.373],[6749.6,.34]];
var m0Li = [[6650,.85],[6652,.6],[6655,.9],[6658,.8],[6660,.85],[6662,.65],[6665,.95],[6667,.9],[6670,1.0],[6672,1.1],[6674,.85],[6676,.55],[6678,.8],[6680,.7],[6683,.6],[6686,.8],[6690,.65],[6693,.6],[6696,.85],[6698,.75],[6700,.6],[6703,.55],[6706,.3],[6708,.08],[6710,.35],[6712,.6],[6714,.4],[6716,.3],[6718,.6],[6720,.55],[6722,.75],[6724,.6],[6727,.45],[6729,.65],[6732,.55],[6735,.7],[6738,.6],[6740,.55],[6742,.5],[6745,.75],[6748,.4],[6750,.25]];
var m3Li = [[6650,.8],[6654,.5],[6658,.75],[6663,.9],[6667,1.0],[6670,.7],[6673,.95],[6676,.6],[6680,.55],[6684,.45],[6688,.5],[6691,.3],[6694,.6],[6697,.8],[6700,1.0],[6703,.95],[6706,.5],[6708,.35],[6711,.55],[6715,1.1],[6718,1.0],[6721,.4],[6724,.25],[6727,.6],[6730,.9],[6733,.5],[6736,.15],[6739,.4],[6742,.8],[6745,.4],[6748,.3]];
var m5Li = [[6650,.75],[6651,.55],[6653,.55],[6655,.65],[6657,.55],[6659,.7],[6661,.85],[6663,.8],[6665,.95],[6667,1.05],[6669,1.1],[6671,1.0],[6673,.85],[6675,.6],[6677,.35],[6679,.25],[6681.8,.357],[6683.7,.307],[6686.6,.34],[6688,.5],[6689,.55],[6690.5,.28],[6693,.45],[6695,.6],[6697,.7],[6699,.65],[6701,.55],[6703,.7],[6705,.45],[6707.9,.357],[6709,.4],[6711,.6],[6713,.5],[6715.7,.24],[6717,.15],[6719,.102],[6721.5,.122],[6723.8,.31],[6725.4,.197],[6728.3,.257],[6731,.45],[6733.1,.34],[6735,.5],[6737,.55],[6739,.6],[6741,.55],[6743,.45],[6745,.3],[6747.7,.28],[6750,.25]];

var fullSpectra = [k3Full, k6Full, m0Full, m3Full, m5Full];
var haSpectra = [k3Ha, k6Ha, m0Ha, m3Ha, m5Ha];
var liSpectra = [k3Li, k6Li, m0Li, m3Li, m5Li];

// Layout
var width = 1008, height = 1291;
var x0 = 90, x1 = 665, x2 = 837, x3 = 1009;
var topY = 36, panelH = 239.4;

var svg = d3.select("body").append("svg")
  .attr("width", width)
  .attr("height", height);

svg.append("rect").attr("width", width).attr("height", height).attr("fill", "#fff");

var xFull = d3.scaleLinear().domain([4000, 9000]).range([x0, x1]);
var xHa = d3.scaleLinear().domain([6510, 6610]).range([x1, x2]);
var xLi = d3.scaleLinear().domain([6650, 6750]).range([x2, x3]);

var defs = svg.append("defs");

// draw top/bottom ticks of one panel
function xTicks(g, x, yTop, yBot, minorStep, majorStep, minorLen, majorLen, labels, labelSize, labelPad) {
  var d = x.domain();
  var minor = d3.range(d[0], d[1] + 0.001, minorStep);
  var major = d3.range(Math.ceil(d[0] / majorStep) * majorStep, d[1] + 0.001, majorStep);

  [[d3.axisTop, yTop], [d3.axisBottom, yBot]].forEach(function(a) {
    var ax = g.append("g").attr("transform", "translate(0," + a[1] + ")")
      .call(a[0](x).tickValues(minor).tickSize(-minorLen).tickFormat(""));
    ax.select(".domain").remove();
    var ax2 = g.append("g").attr("transform", "translate(0," + a[1] + ")")
      .call(a[0](x).tickValues(major).tickSize(-majorLen).tickFormat(""));
    ax2.select(".domain").remove();
  });

  if (labels) {
    var lab = g.append("g").attr("transform", "translate(0," + yBot + ")")
      .call(d3.axisBottom(x).tickValues(labels).tickSize(0).tickPadding(labelPad).tickFormat(d3.format("d")));
    lab.select(".domain").remove();
    lab.selectAll("text")
      .attr("font-family", "DejaVu Sans, sans-serif")
      .attr("font-size", labelSize)
      .style("letter-spacing", labelSize > 12 ? "1px" : "0.3px");
  }
  g.selectAll(".tick line").attr("stroke", "#000").attr("stroke-width", 1);
}

var line = function(x, y) {
  return d3.line().x(function(d) { return x(d[0]); }).y(function(d) { return y(d[1]); });
};

spectralTypes.forEach(function(type, i) {
  var yT = topY + i * panelH;
  var yB = topY + (i + 1) * panelH;
  var y = d3.scaleLinear().domain([0, 1.2]).range([yB, yT]);
  var last = (i === spectralTypes.length - 1);
  var row = svg.append("g").attr("class", "row");

  // clip paths
  [["full", x0, x1], ["ha", x1, x2], ["li", x2, x3]].forEach(function(c) {
    defs.append("clipPath").attr("id", "clip-" + c[0] + i)
      .append("rect").attr("x", c[1]).attr("y", yT).attr("width", c[2] - c[1]).attr("height", yB - yT);
  });

  // spectra
  row.append("path").datum(fullSpectra[i])
    .attr("clip-path", "url(#clip-full" + i + ")")
    .attr("fill", "none").attr("stroke", "#000").attr("stroke-width", 1.2)
    .attr("stroke-linejoin", "round")
    .attr("d", line(xFull, y));

  row.append("path").datum(haSpectra[i])
    .attr("clip-path", "url(#clip-ha" + i + ")")
    .attr("fill", "none").attr("stroke", "#000").attr("stroke-width", 1)
    .attr("d", line(xHa, y));

  row.append("path").datum(liSpectra[i])
    .attr("clip-path", "url(#clip-li" + i + ")")
    .attr("fill", "none").attr("stroke", "#000").attr("stroke-width", 1)
    .attr("d", line(xLi, y));

  // dotted reference lines
  row.append("line")
    .attr("x1", xHa(haLine)).attr("x2", xHa(haLine))
    .attr("y1", yT).attr("y2", yB)
    .attr("stroke", "#000").attr("stroke-width", 1.2).attr("stroke-dasharray", "2,4.5");
  row.append("line")
    .attr("x1", xLi(liLine)).attr("x2", xLi(liLine))
    .attr("y1", yT).attr("y2", yB)
    .attr("stroke", "#000").attr("stroke-width", 1.2).attr("stroke-dasharray", "2,4.5");

  // y axis (left, with labels)
  var yMinor = d3.range(0, 1.2001, 0.05);
  var yl = row.append("g").attr("transform", "translate(" + x0 + ",0)")
    .call(d3.axisLeft(y).tickValues(yMinor).tickSize(-6).tickFormat(""));
  yl.select(".domain").remove();
  var yl2 = row.append("g").attr("transform", "translate(" + x0 + ",0)")
    .call(d3.axisLeft(y).tickValues(yTickValues).tickSize(-12).tickPadding(7).tickFormat(d3.format(".1f")));
  yl2.select(".domain").remove();
  yl2.selectAll("text")
    .attr("font-family", "DejaVu Sans, sans-serif")
    .attr("font-size", 15)
    .style("letter-spacing", "1px")
    .attr("dy", function(d) { return d === 0 ? -2.4 : (d === 1.2 ? 13.4 : 4.8); });

  // y axis (right of full panel, no labels)
  var yr = row.append("g").attr("transform", "translate(" + x1 + ",0)")
    .call(d3.axisRight(y).tickValues(yMinor).tickSize(-6).tickFormat(""));
  yr.select(".domain").remove();
  var yr2 = row.append("g").attr("transform", "translate(" + x1 + ",0)")
    .call(d3.axisRight(y).tickValues(yTickValues).tickSize(-12).tickFormat(""));
  yr2.select(".domain").remove();
  row.selectAll(".tick line").attr("stroke", "#000");

  // x ticks
  xTicks(row.append("g"), xFull, yT, yB, 100, 1000, 4, 8, last ? fullTickLabels : null, 15, 14);
  xTicks(row.append("g"), xHa, yT, yB, 5, 20, 3.5, 6.5, last ? haTickLabels : null, 11, 9);
  xTicks(row.append("g"), xLi, yT, yB, 5, 20, 3.5, 6.5, last ? liTickLabels : null, 11, 9);

  // frames
  [[x0, x1], [x1, x2], [x2, x3]].forEach(function(c) {
    row.append("rect").attr("x", c[0]).attr("y", yT).attr("width", c[1] - c[0]).attr("height", yB - yT)
      .attr("fill", "none").attr("stroke", "#000").attr("stroke-width", 1.3);
  });

  // star label
  row.append("text").attr("x", 113).attr("y", yT + 41)
    .attr("font-size", 16).style("letter-spacing", "2.3px").text(type);
  row.append("text").attr("x", 113).attr("y", yT + 70)
    .attr("font-size", 16).style("letter-spacing", "2.3px").text(starClasses[i]);
});

// column titles
var haTitle = svg.append("text").attr("x", 766).attr("y", 25)
  .attr("text-anchor", "middle").attr("font-size", 16).style("letter-spacing", "2px");
haTitle.append("tspan").text("H");
haTitle.append("tspan").attr("font-style", "italic").text("α");

svg.append("text").attr("x", 931).attr("y", 25)
  .attr("text-anchor", "middle").attr("font-size", 16).style("letter-spacing", "2px").text("Li");

// H-alpha marker on full spectrum
var hx = xFull(haLine);
svg.append("line").attr("x1", hx).attr("x2", hx).attr("y1", topY - 6).attr("y2", topY)
  .attr("stroke", "#000").attr("stroke-width", 1.2);
var hm = svg.append("text")
  .attr("transform", "translate(" + (hx + 4) + "," + (topY - 6) + ") rotate(-90)")
  .attr("font-size", 15).style("letter-spacing", "1px");
hm.append("tspan").text("H");
hm.append("tspan").attr("font-style", "italic").text("α");

// axis titles
svg.append("text").attr("x", 478).attr("y", 1281)
  .attr("text-anchor", "middle").attr("font-size", 17).style("letter-spacing", "2px")
  .text("wavelength (Å)");

svg.append("text")
  .attr("transform", "translate(25," + (topY + 2.5 * panelH) + ") rotate(-90)")
  .attr("text-anchor", "middle").attr("font-size", 17).style("letter-spacing", "2px")
  .text("normalized flux");
</script>
</body>
</html>
